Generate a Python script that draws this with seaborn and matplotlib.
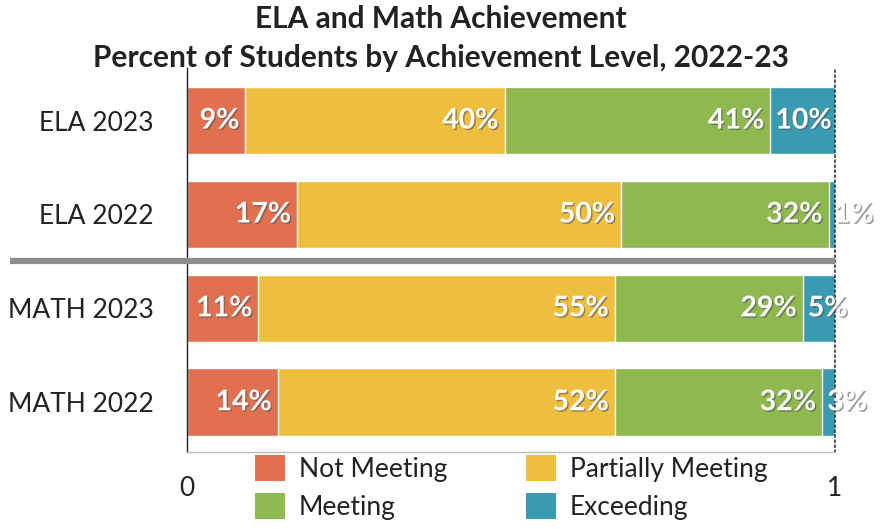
import numpy as np
import matplotlib
matplotlib.use("Agg")
import matplotlib.pyplot as plt
import matplotlib.patheffects as pe
from matplotlib.patches import Patch
import seaborn as sns

# --- data ---
rows = ["ELA 2023", "ELA 2022", "MATH 2023", "MATH 2022"]
levels = ["Not Meeting", "Partially Meeting", "Meeting", "Exceeding"]
not_meeting = [9, 17, 11, 14]
partially_meeting = [40, 50, 55, 52]
meeting = [41, 32, 29, 32]
exceeding = [10, 1, 5, 3]
colors = ["#E0704F", "#EEBF3E", "#8DB94F", "#3A9BB0"]
tick_labels = ["0", "1"]

sns.set_theme(style="white")
plt.rcParams["font.family"] = ["Lato", "DejaVu Sans"]

series = [not_meeting, partially_meeting, meeting, exceeding]
vals = np.array(series, dtype=float) / 100.0
cum = np.minimum(np.cumsum(vals, axis=0), 1.0)
starts = np.vstack([np.zeros(len(rows)), cum[:-1]])

fig = plt.figure(figsize=(8.82, 5.29), dpi=100)
ax = fig.add_axes([187 / 882, 1 - 452 / 529, 648 / 882, 384 / 529])

# stacked bars: draw cumulative totals from the back to the front
for i in range(len(levels) - 1, -1, -1):
    sns.barplot(x=cum[i], y=rows, color=colors[i], orient="h", width=0.72,
                saturation=1, ax=ax)

ax.set_xlim(0, 1)
ax.set_ylim(3.53, -0.56)
ax.set_xticks([0, 1])
ax.set_xticklabels(tick_labels, fontsize=19, color="#222222")
ax.tick_params(axis="x", length=0, pad=17)
ax.tick_params(axis="y", length=0, pad=24, labelsize=19, labelcolor="#222222")
ax.set_xlabel("")
ax.set_ylabel("")

ax.spines["top"].set_visible(False)
ax.spines["left"].set_color("#222222")
ax.spines["left"].set_linewidth(1.0)
ax.spines["bottom"].set_color("#bbbbbb")
ax.spines["bottom"].set_linewidth(1.0)
ax.spines["right"].set_color("#333333")
ax.spines["right"].set_linestyle((0, (1, 2)))
ax.spines["right"].set_linewidth(1.2)

# gray separator between ELA and MATH
ax.plot([-177 / 648, 1.0], [1.5, 1.5], color="#8e8e8e", lw=4.5,
        clip_on=False, solid_capstyle="butt", zorder=5)

# segment labels
shadow = [pe.withSimplePatchShadow(offset=(1, -1), shadow_rgbFace="#555555", alpha=0.6)]
for i in range(len(levels)):
    for r in range(len(rows)):
        txt = f"{series[i][r]}%"
        if i == len(levels) - 1:
            ax.text(starts[i][r] + 0.008, r, txt, ha="left", va="center",
                    fontsize=20.5, fontweight="bold", color="white",
                    path_effects=shadow, clip_on=False, zorder=6)
        else:
            ax.text(cum[i][r] - 0.009, r, txt, ha="right", va="center",
                    fontsize=20.5, fontweight="bold", color="white",
                    path_effects=shadow, zorder=6)

fig.text(0.5, 1 - 19 / 529, "ELA and Math Achievement", ha="center", va="center",
         fontsize=21.5, fontweight="bold", color="#222222")
fig.text(0.5, 1 - 58 / 529, "Percent of Students by Achievement Level, 2022-23",
         ha="center", va="center", fontsize=21.5, fontweight="bold", color="#222222")

handles = [Patch(facecolor=c, edgecolor="none") for c in colors]
order = [0, 2, 1, 3]
fig.legend([handles[k] for k in order], [levels[k] for k in order], ncol=2,
           loc="upper left", bbox_to_anchor=(255 / 882, 1 - 455 / 529),
           frameon=False, fontsize=19, handlelength=1.15, handleheight=1.15,
           handletextpad=0.5, columnspacing=3.0, labelspacing=0.42,
           borderpad=0, borderaxespad=0, labelcolor="#222222")

fig.savefig("out.png", dpi=100)
